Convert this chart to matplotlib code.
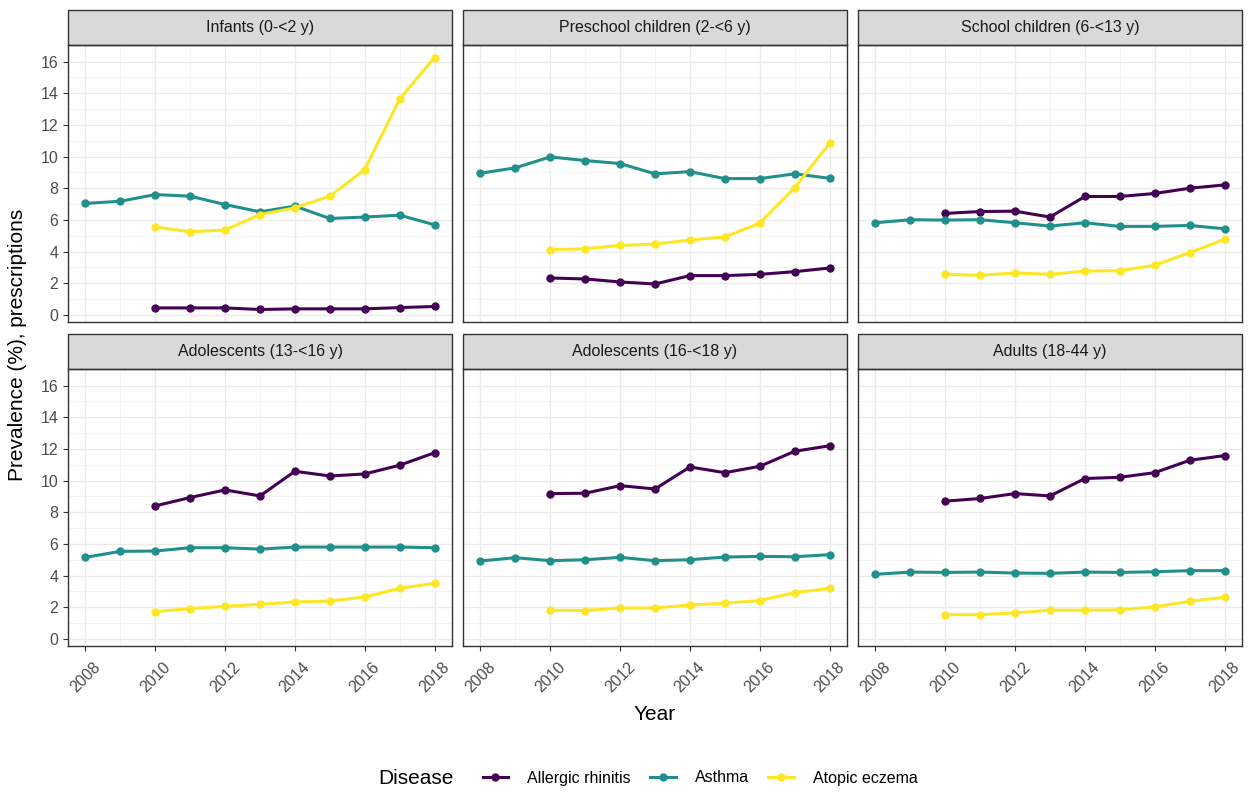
import matplotlib.pyplot as plt
import matplotlib.patches as mpatches
from matplotlib.lines import Line2D
import numpy as np

plt.rcParams['font.family'] = ['Liberation Sans', 'DejaVu Sans']

years_asthma = np.arange(2008, 2019)
years_other = np.arange(2010, 2019)

groups = ['Infants (0-<2 y)', 'Preschool children (2-<6 y)', 'School children (6-<13 y)',
          'Adolescents (13-<16 y)', 'Adolescents (16-<18 y)', 'Adults (18-44 y)']
diseases = ['Allergic rhinitis', 'Asthma', 'Atopic eczema']

# Allergic rhinitis, 2010-2018
rhinitis = [
    [0.44, 0.44, 0.44, 0.34, 0.38, 0.38, 0.38, 0.46, 0.53],
    [2.33, 2.27, 2.08, 1.95, 2.48, 2.48, 2.56, 2.73, 2.96],
    [6.41, 6.53, 6.55, 6.18, 7.48, 7.48, 7.67, 8.00, 8.21],
    [8.40, 8.93, 9.41, 9.03, 10.59, 10.29, 10.42, 10.97, 11.76],
    [9.18, 9.20, 9.68, 9.47, 10.86, 10.50, 10.90, 11.85, 12.20],
    [8.70, 8.87, 9.18, 9.03, 10.13, 10.21, 10.50, 11.28, 11.58],
]
# Asthma, 2008-2018
asthma = [
    [7.04, 7.18, 7.60, 7.50, 6.97, 6.51, 6.87, 6.09, 6.18, 6.30, 5.69],
    [8.95, 9.29, 9.98, 9.75, 9.56, 8.91, 9.05, 8.61, 8.61, 8.91, 8.63],
    [5.82, 6.01, 5.99, 6.01, 5.82, 5.61, 5.82, 5.59, 5.59, 5.65, 5.44],
    [5.15, 5.53, 5.55, 5.76, 5.76, 5.67, 5.80, 5.80, 5.80, 5.80, 5.76],
    [4.92, 5.13, 4.94, 5.00, 5.15, 4.94, 5.00, 5.17, 5.21, 5.19, 5.32],
    [4.08, 4.22, 4.20, 4.22, 4.16, 4.14, 4.22, 4.20, 4.24, 4.31, 4.31],
]
# Atopic eczema, 2010-2018
eczema = [
    [5.55, 5.25, 5.36, 6.34, 6.76, 7.50, 9.18, 13.63, 16.26],
    [4.12, 4.18, 4.39, 4.47, 4.73, 4.92, 5.80, 8.03, 10.84],
    [2.56, 2.50, 2.65, 2.56, 2.77, 2.79, 3.13, 3.93, 4.77],
    [1.72, 1.91, 2.06, 2.18, 2.33, 2.39, 2.65, 3.19, 3.51],
    [1.81, 1.79, 1.95, 1.95, 2.14, 2.25, 2.42, 2.92, 3.19],
    [1.53, 1.53, 1.64, 1.81, 1.81, 1.83, 2.02, 2.37, 2.63],
]

colors = ['#440154', '#21908C', '#FDE725']

W, H = 1249, 792
fig = plt.figure(figsize=(W / 100, H / 100), dpi=100)

col_x = [68, 463, 858]
row_top = [45, 369]
pw, ph = 384, 277
strip_h = 35

for i, name in enumerate(groups):
    r, c = divmod(i, 3)
    ax = fig.add_axes([col_x[c] / W, (H - row_top[r] - ph) / H, pw / W, ph / H])

    ax.set_xlim(2007.5, 2018.5)
    ax.set_ylim(-0.45, 17.05)
    ax.set_xticks(np.arange(2008, 2019, 2))
    ax.set_xticks(np.arange(2009, 2019, 2), minor=True)
    ax.set_yticks(np.arange(0, 17, 2))
    ax.set_yticks(np.arange(1, 17, 2), minor=True)
    ax.grid(which='major', color='#EBEBEB', lw=1.0, zorder=0)
    ax.grid(which='minor', color='#F2F2F2', lw=0.6, zorder=0)
    ax.set_axisbelow(True)
    for s in ax.spines.values():
        s.set_color('#333333')
        s.set_linewidth(1.0)
    ax.tick_params(which='major', length=3.5, width=0.8, color='#333333',
                   labelcolor='#4D4D4D', labelsize=11.5)
    ax.tick_params(axis='x', pad=6)
    ax.tick_params(which='minor', length=0)

    if c != 0:
        ax.tick_params(axis='y', left=False, labelleft=False)
    if r == 0:
        ax.tick_params(axis='x', bottom=False, labelbottom=False)
    else:
        for lab in ax.get_xticklabels():
            lab.set_rotation(45)
            lab.set_ha('center')

    ax.plot(years_other, rhinitis[i], color=colors[0], lw=2.2, marker='o', ms=5, zorder=3)
    ax.plot(years_asthma, asthma[i], color=colors[1], lw=2.2, marker='o', ms=5, zorder=3)
    ax.plot(years_other, eczema[i], color=colors[2], lw=2.2, marker='o', ms=5, zorder=3)

    # facet strip
    sh = strip_h / ph
    rect = mpatches.Rectangle((0, 1), 1, sh, transform=ax.transAxes, facecolor='#D9D9D9',
                              edgecolor='#333333', lw=1.0, clip_on=False)
    ax.add_patch(rect)
    ax.text(0.5, 1 + sh / 2, name, transform=ax.transAxes, ha='center', va='center',
            fontsize=11.5, color='#1A1A1A')

fig.text(655 / W, 1 - 715 / H, 'Year', ha='center', va='center', fontsize=15, color='black')
fig.text(18 / W, 1 - 345 / H, 'Prevalence (%), prescriptions', ha='center', va='center',
         rotation=90, fontsize=15, color='black')

# legend
fig.text(378 / W, 1 - 778 / H, 'Disease', ha='left', va='center', fontsize=15)
handles = [Line2D([0], [0], color=col, lw=2.2, marker='o', ms=5) for col in colors]
fig.legend(handles, diseases, loc='center', bbox_to_anchor=(700 / W, 1 - 778 / H),
           ncol=3, frameon=False, fontsize=11.5, handlelength=1.6, handletextpad=1.2,
           columnspacing=1.2)

fig.savefig('out.png', dpi=100)
